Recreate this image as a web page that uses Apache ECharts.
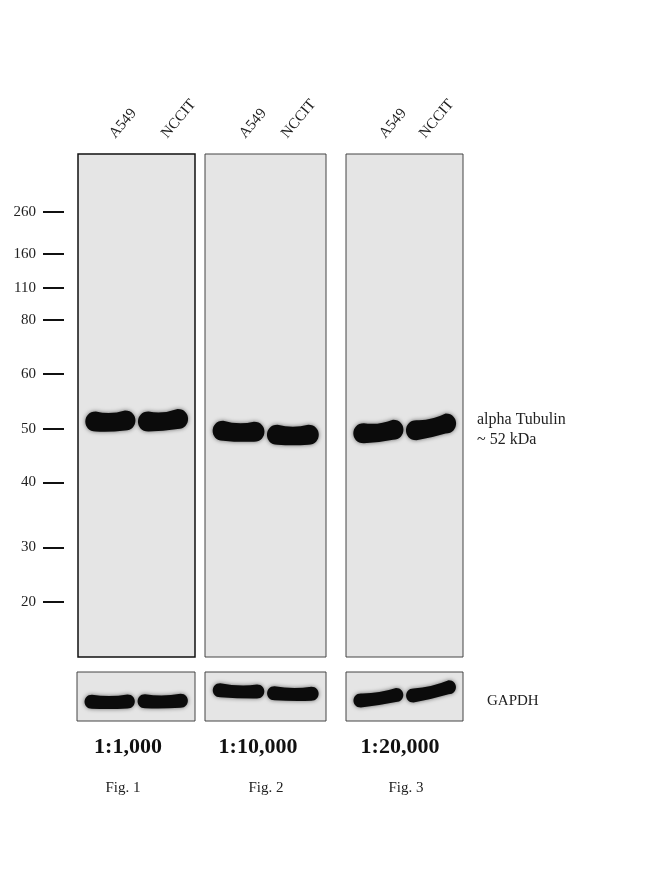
<!DOCTYPE html>
<html>
<head>
<meta charset="utf-8">
<script src="https://cdn.jsdelivr.net/npm/echarts@6/dist/echarts.min.js"></script>
<style>
  html, body { margin: 0; padding: 0; background: #fff; }
  #blot { width: 650px; height: 879px; }
</style>
</head>
<body>
<div id="blot"></div>
<script>
// lanes and panels
const lanes = ['A549', 'NCCIT'];
const dilutions = ['1:1,000', '1:10,000', '1:20,000'];
const figLabels = ['Fig. 1', 'Fig. 2', 'Fig. 3'];

// marker ladder: kDa label and migration (% of gel height from top)
const markerKda = ['260', '160', '110', '80', '60', '50', '40', '30', '20'];
const markerMigration = [11.5, 19.9, 26.6, 33.0, 43.7, 54.6, 65.3, 78.2, 89.1];

// alpha Tubulin bands per panel: [lane, migration at left end, migration at right end]
const tubulinBands = [
  [[0, 53.2, 53.0], [1, 53.2, 52.7]],
  [[0, 55.0, 55.2], [1, 55.8, 55.8]],
  [[0, 55.5, 54.8], [1, 54.9, 53.6]]
];
// GAPDH bands per panel: [lane, migration at left end, migration at right end] (% of strip height)
const gapdhBands = [
  [[0, 60.5, 60.0], [1, 59.5, 58.5]],
  [[0, 37.0, 40.0], [1, 43.5, 44.5]],
  [[0, 58.0, 47.0], [1, 48.0, 31.0]]
];

const SERIF = '"Liberation Serif", "Times New Roman", serif';
const panelX = [[78, 117], [205, 121], [346, 117]];
const mainTop = 154, mainH = 503;
const stripTop = 672, stripH = 49;
// where each lane name starts (text baseline, left end)
const laneLabelX = [[118, 170], [248, 290], [388, 428]];

const chart = echarts.init(document.getElementById('blot'), null, { width: 650, height: 879 });

function bandRenderer(thick, bump) {
  return function (params, api) {
    const cs = params.coordSys;
    const lane = api.value(0);
    const pL = api.coord([lane, api.value(1)]);
    const pR = api.coord([lane, api.value(2)]);
    const catW = api.size([1, 0])[0];
    const w = catW * 0.84;
    const mid = cs.x + cs.width / 2;
    const x0 = lane === 0 ? mid - 1.5 - w : mid + 2;
    const x1 = x0 + w;
    const yL = pL[1], yR = pR[1];
    const xm = (x0 + x1) / 2, ym = (yL + yR) / 2;
    const h = thick / 2, r = thick / 2;
    const d = [
      'M', x0 + r, yL - h,
      'Q', xm, ym - h + bump, x1 - r, yR - h,
      'C', x1 + r * 0.4, yR - h, x1 + r * 0.4, yR + h, x1 - r, yR + h,
      'Q', xm, ym + h + bump * 0.3, x0 + r, yL + h,
      'C', x0 - r * 0.4, yL + h, x0 - r * 0.4, yL - h, x0 + r, yL - h,
      'Z'
    ].join(' ');
    return {
      type: 'path',
      shape: { pathData: d },
      style: { fill: '#0b0b0b', shadowBlur: 4, shadowColor: 'rgba(0,0,0,0.55)' }
    };
  };
}

const grids = [], xAxes = [], yAxes = [], series = [];
panelX.forEach(function (p, i) {
  // main blot
  grids.push({
    left: p[0], top: mainTop, width: p[1], height: mainH, show: true,
    backgroundColor: '#e5e5e5', borderColor: i === 0 ? '#111' : '#444', borderWidth: i === 0 ? 1.5 : 1
  });
  // GAPDH strip
  grids.push({
    left: p[0] - (i === 0 ? 1 : 0), top: stripTop, width: p[1] + (i === 0 ? 1 : 0), height: stripH, show: true,
    backgroundColor: '#e5e5e5', borderColor: '#444', borderWidth: 1
  });
});

grids.forEach(function (g, gi) {
  xAxes.push({
    type: 'category', gridIndex: gi, data: lanes, position: 'top',
    axisLine: { show: false }, axisTick: { show: false }, splitLine: { show: false },
    axisLabel: { show: false }
  });
  const withLadder = gi === 0;
  yAxes.push({
    type: 'value', gridIndex: gi, min: 0, max: 100, inverse: true,
    offset: withLadder ? 14 : 0,
    splitLine: { show: false },
    axisLine: { show: false },
    axisTick: withLadder ? {
      show: true, length: 21, customValues: markerMigration,
      lineStyle: { color: '#111', width: 2 }
    } : { show: false },
    axisLabel: withLadder ? {
      show: true, margin: 28, customValues: markerMigration,
      fontFamily: SERIF, fontSize: 15, color: '#222',
      formatter: function (v) {
        const k = markerMigration.indexOf(v);
        return k >= 0 ? markerKda[k] : '';
      }
    } : { show: false }
  });
});

tubulinBands.forEach(function (bands, i) {
  series.push({
    type: 'custom', name: 'alpha Tubulin', xAxisIndex: i * 2, yAxisIndex: i * 2,
    renderItem: bandRenderer(20, 4), data: bands, silent: true
  });
});
gapdhBands.forEach(function (bands, i) {
  series.push({
    type: 'custom', name: 'GAPDH', xAxisIndex: i * 2 + 1, yAxisIndex: i * 2 + 1,
    renderItem: bandRenderer(14, 3), data: bands, silent: true
  });
});

const dilutionX = [128, 258, 400];
const figX = [123, 266, 406];
const graphic = [];
laneLabelX.forEach(function (xs) {
  xs.forEach(function (x, k) {
    graphic.push({
      type: 'text', x: x, y: 141, rotation: 50 * Math.PI / 180,
      style: { text: lanes[k], fontFamily: SERIF, fontSize: 15, fill: '#222',
        align: 'left', verticalAlign: 'bottom' }
    });
  });
});
dilutions.forEach(function (t, i) {
  graphic.push({
    type: 'text', x: dilutionX[i], y: 747,
    style: { text: t, fontFamily: SERIF, fontSize: 22, fontWeight: 'bold', fill: '#111',
      align: 'center', verticalAlign: 'middle' }
  });
});
figLabels.forEach(function (t, i) {
  graphic.push({
    type: 'text', x: figX[i], y: 788,
    style: { text: t, fontFamily: SERIF, fontSize: 15, fill: '#222',
      align: 'center', verticalAlign: 'middle' }
  });
});
graphic.push({
  type: 'text', x: 477, y: 420,
  style: { text: 'alpha Tubulin', fontFamily: SERIF, fontSize: 16, fill: '#222', verticalAlign: 'middle' }
});
graphic.push({
  type: 'text', x: 477, y: 440,
  style: { text: '~ 52 kDa', fontFamily: SERIF, fontSize: 16, fill: '#222', verticalAlign: 'middle' }
});
graphic.push({
  type: 'text', x: 487, y: 701,
  style: { text: 'GAPDH', fontFamily: SERIF, fontSize: 15, fill: '#222', verticalAlign: 'middle' }
});

chart.setOption({
  backgroundColor: '#ffffff',
  animation: false,
  grid: grids,
  xAxis: xAxes,
  yAxis: yAxes,
  series: series,
  graphic: graphic
});
</script>
</body>
</html>
